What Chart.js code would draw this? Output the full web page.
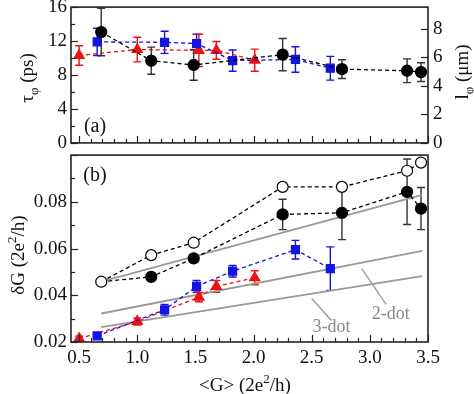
<!DOCTYPE html>
<html><head><meta charset="utf-8">
<script src="https://cdn.jsdelivr.net/npm/chart.js@4"></script>
<style>
html,body{margin:0;padding:0;background:#fff;overflow:hidden;width:474px;height:394px}
#a{position:absolute;left:0;top:0}
#b{position:absolute;left:0;top:148px}
</style></head><body>
<canvas id="a" width="474" height="150"></canvas>
<canvas id="b" width="474" height="246"></canvas>
<script>
// ---- data ----
const redX   = [0.50, 1.00, 1.53, 1.68, 2.01];
const blueX  = [0.655, 1.235, 1.51, 1.82, 2.36, 2.66];
const blackX = [0.69, 1.12, 1.485, 2.25, 2.76, 3.32, 3.44];

// panel (a): tau_phi (ps)
const redTau      = [10.3, 11.0, 10.9, 10.9, 9.75];
const redTauErr   = [1.15, 1.45, 1.9, 1.05, 1.3];
const blueTau     = [11.9, 11.85, 11.7, 9.7, 9.83, 8.8];
const blueTauErr  = [1.6, 1.3, 1.1, 1.25, 1.5, 1.4];
const blackTau    = [13.06, 9.68, 9.18, 10.4, 8.69, 8.5, 8.34];
const blackTauErr = [2.8, 1.6, 1.8, 1.9, 1.1, 1.4, 1.1];

// panel (b): deltaG (2e^2/h)
const openG     = [0.0458, 0.0572, 0.0625, 0.0864, 0.0864, 0.0933, 0.0968];
const blackG    = [0.0458, 0.0479, 0.0558, 0.0746, 0.0753, 0.0843, 0.0771];
const blackGErr = [0, 0.001, 0.0015, 0.0065, 0.0115, 0.014, 0.009];
const blueG     = [0.0226, 0.0338, 0.0438, 0.0503, 0.0595, 0.0514];
const blueGErr  = [0.0008, 0.0023, 0.0025, 0.0025, 0.004, 0.0093];
const redG      = [0.0215, 0.0288, 0.0392, 0.0438, 0.0475];
const redGErr   = [0.001, 0.0015, 0.002, 0.0025, 0.003];

// model curves
const modelX  = [0.69, 3.45];
const model1G = [0.0458, 0.0830];
const model2G = [0.0322, 0.0590];
const model3G = [0.0264, 0.0482];

// tick labels
const xTicks   = [0.5, 1.0, 1.5, 2.0, 2.5, 3.0, 3.5];
const tauTicks = [0, 4, 8, 12, 16];
const lTicks   = [0, 2, 4, 6, 8];
const gTicks   = [0.02, 0.04, 0.06, 0.08];
const annoLabels = ['2-dot', '3-dot'];

// ---- styling ----
const FONT = '"Liberation Serif", "Times New Roman", serif';
const RED = '#ee1111', BLUE = '#1414e0', BLACK = '#000000', GRAY = '#999999';

const xMinor = []; for (let k = 5; k <= 35; k++) xMinor.push(k / 10);
const tauMinor = [2, 6, 10, 14];
const gMinor = [0.03, 0.05, 0.07, 0.09];

function pts(xs, ys) { return xs.map((x, i) => ({ x: x, y: ys[i] })); }

function rich(ctx, segs, x, y, rot, color) {
  ctx.save(); ctx.translate(x, y); ctx.rotate(rot || 0);
  let w = 0;
  segs.forEach(s => { ctx.font = s[1] + 'px ' + FONT; w += ctx.measureText(s[0]).width; });
  let cx = -w / 2; ctx.textBaseline = 'alphabetic'; ctx.fillStyle = color || '#111';
  segs.forEach(s => { ctx.font = s[1] + 'px ' + FONT; ctx.fillText(s[0], cx, s[2]); cx += ctx.measureText(s[0]).width; });
  ctx.restore();
}

const errorBars = {
  id: 'errorBars',
  beforeDatasetsDraw(chart) {
    const ctx = chart.ctx;
    chart.data.datasets.forEach((ds, i) => {
      if (!ds.errors) return;
      const meta = chart.getDatasetMeta(i);
      const ys = chart.scales[ds.yAxisID || 'y'];
      ctx.save(); ctx.strokeStyle = ds.errColor || ds.borderColor; ctx.lineWidth = 1.4; ctx.setLineDash([]);
      ds.data.forEach((p, j) => {
        const e = ds.errors[j]; if (!e) return;
        const x = meta.data[j].x;
        const y1 = ys.getPixelForValue(p.y + e), y2 = ys.getPixelForValue(p.y - e);
        ctx.beginPath();
        ctx.moveTo(x, y1); ctx.lineTo(x, y2);
        ctx.moveTo(x - 4, y1); ctx.lineTo(x + 4, y1);
        ctx.moveTo(x - 4, y2); ctx.lineTo(x + 4, y2);
        ctx.stroke();
      });
      ctx.restore();
    });
  }
};

const frame = {
  id: 'frame',
  afterDraw(chart, args, opts) {
    const ctx = chart.ctx, a = chart.chartArea;
    ctx.save(); ctx.strokeStyle = '#222'; ctx.lineWidth = 1.2; ctx.setLineDash([]);
    (opts.list || []).forEach(t => {
      const s = chart.scales[t.scale];
      t.values.forEach(v => {
        const p = Math.round(s.getPixelForValue(v)) + 0.5;
        ctx.beginPath();
        if (t.side === 'bottom') { ctx.moveTo(p, a.bottom); ctx.lineTo(p, a.bottom - t.len); }
        else if (t.side === 'left') { ctx.moveTo(a.left, p); ctx.lineTo(a.left + t.len, p); }
        else { ctx.moveTo(a.right, p); ctx.lineTo(a.right - t.len, p); }
        ctx.stroke();
      });
    });
    ctx.lineWidth = 1.6;
    ctx.strokeRect(a.left, a.top, a.right - a.left, a.bottom - a.top);
    (opts.texts || []).forEach(t => rich(ctx, t.segs, t.x, t.y, t.rot, t.color));
    ctx.restore();
  }
};

const annot = {
  id: 'annot',
  afterDatasetsDraw(chart, args, opts) {
    const ctx = chart.ctx, xs = chart.scales.x, ys = chart.scales.y;
    ctx.save(); ctx.strokeStyle = GRAY; ctx.lineWidth = 1.3;
    (opts.items || []).forEach(it => {
      ctx.beginPath();
      ctx.moveTo(xs.getPixelForValue(it.l[0]), ys.getPixelForValue(it.l[1]));
      ctx.lineTo(xs.getPixelForValue(it.l[2]), ys.getPixelForValue(it.l[3]));
      ctx.stroke();
      ctx.font = '18px ' + FONT; ctx.fillStyle = '#888'; ctx.textAlign = 'center'; ctx.textBaseline = 'middle';
      ctx.fillText(it.text, xs.getPixelForValue(it.t[0]), ys.getPixelForValue(it.t[1]));
    });
    ctx.restore();
  }
};

function fixW(w) { return s => { s.width = w; s.paddingTop = 0; s.paddingBottom = 0; }; }
function setTicks(arr) { return s => { s.ticks = arr.map(v => ({ value: v })); }; }

const tickFont = { family: FONT, size: 19 };
const dashed = { borderDash: [4, 3], borderWidth: 1.3, showLine: true };

// ---- panel (a) ----
new Chart(document.getElementById('a'), {
  type: 'scatter',
  data: { datasets: [
    Object.assign({ data: pts(blackX, blackTau), errors: blackTauErr, errColor: '#333', borderColor: BLACK, backgroundColor: BLACK, pointStyle: 'circle', pointRadius: 5.5 }, dashed),
    Object.assign({ data: pts(blueX, blueTau), errors: blueTauErr, borderColor: BLUE, backgroundColor: BLUE, pointStyle: 'rect', pointRadius: 5.6 }, dashed),
    Object.assign({ data: pts(redX, redTau), errors: redTauErr, borderColor: RED, backgroundColor: RED, pointStyle: 'triangle', pointRadius: 5.8 }, dashed)
  ]},
  options: {
    responsive: false, animation: false, devicePixelRatio: 1,
    layout: { padding: { top: 7, bottom: 3, left: 0, right: 0 } },
    plugins: { legend: { display: false }, tooltip: { enabled: false },
      frame: {
        list: [
          { scale: 'x', side: 'bottom', values: xTicks, len: 7 },
          { scale: 'x', side: 'bottom', values: xMinor.filter(v => !xTicks.some(t => Math.abs(t - v) < 1e-6)), len: 4 },
          { scale: 'y', side: 'left', values: tauTicks, len: 7 },
          { scale: 'y', side: 'left', values: tauMinor, len: 4 },
          { scale: 'y2', side: 'right', values: lTicks, len: 7 }
        ],
        texts: [
          { segs: [['τ', 19, 0], ['φ', 13, 5], [' (ps)', 19, 0]], x: 33, y: 78, rot: -Math.PI / 2 },
          { segs: [['l', 19, 0], ['φ', 13, 5], [' (μm)', 19, 0]], x: 468, y: 72, rot: -Math.PI / 2 },
          { segs: [['(a)', 20, 0]], x: 95, y: 132, rot: 0 }
        ]
      }
    },
    elements: { line: { tension: 0 } },
    clip: false,
    scales: {
      x: { type: 'linear', min: 0.43, max: 3.5, display: false },
      y: { position: 'left', min: 0, max: 16, afterBuildTicks: setTicks(tauTicks), afterFit: fixW(71),
        grid: { display: false, drawTicks: false }, border: { display: false },
        ticks: { font: tickFont, color: '#111', padding: 4 } },
      y2: { position: 'right', min: 0, max: 9.5, afterBuildTicks: setTicks(lTicks), afterFit: fixW(46),
        grid: { display: false, drawTicks: false }, border: { display: false },
        ticks: { font: tickFont, color: '#111', padding: 5 } }
    }
  },
  plugins: [errorBars, frame]
});

// ---- panel (b) ----
const grayLine = { showLine: true, borderColor: GRAY, borderWidth: 1.8, pointRadius: 0, backgroundColor: GRAY };
new Chart(document.getElementById('b'), {
  type: 'scatter',
  data: { datasets: [
    Object.assign({ data: pts(blackX, openG), borderColor: BLACK, backgroundColor: '#ffffff', pointBorderWidth: 1.2, pointStyle: 'circle', pointRadius: 5.5 }, dashed),
    Object.assign({ data: pts(blackX, blackG), errors: blackGErr, errColor: '#333', borderColor: BLACK, backgroundColor: BLACK, pointStyle: 'circle', pointRadius: blackX.map((v, i) => i === 0 ? 0 : 5.5) }, dashed),
    Object.assign({ data: pts(blueX, blueG), errors: blueGErr, borderColor: BLUE, backgroundColor: BLUE, pointStyle: 'rect', pointRadius: 5.6 }, dashed),
    Object.assign({ data: pts(redX, redG), errors: redGErr, borderColor: RED, backgroundColor: RED, pointStyle: 'triangle', pointRadius: 5.8 }, dashed),
    Object.assign({ data: pts(modelX, model1G) }, grayLine),
    Object.assign({ data: pts(modelX, model2G) }, grayLine),
    Object.assign({ data: pts(modelX, model3G) }, grayLine)
  ]},
  options: {
    responsive: false, animation: false, devicePixelRatio: 1,
    layout: { padding: { top: 2, bottom: 0, left: 0, right: 46 } },
    plugins: { legend: { display: false }, tooltip: { enabled: false },
      frame: {
        list: [
          { scale: 'x', side: 'bottom', values: xTicks, len: 7 },
          { scale: 'x', side: 'bottom', values: xMinor.filter(v => !xTicks.some(t => Math.abs(t - v) < 1e-6)), len: 4 },
          { scale: 'y', side: 'left', values: gTicks.concat([0.10]), len: 7 },
          { scale: 'y', side: 'left', values: gMinor, len: 4 }
        ],
        texts: [
          { segs: [['δG (2e', 19, 0], ['2', 13, -8], ['/h)', 19, 0]], x: 24, y: 107, rot: -Math.PI / 2 },
          { segs: [['<G> (2e', 19, 0], ['2', 13, -8], ['/h)', 19, 0]], x: 245, y: 243, rot: 0 },
          { segs: [['(b)', 20, 0]], x: 95, y: 33, rot: 0 }
        ]
      },
      annot: { items: [
        { text: annoLabels[0], l: [2.93, 0.0514, 3.14, 0.0361], t: [3.18, 0.0317] },
        { text: annoLabels[1], l: [2.50, 0.0386, 2.67, 0.0292], t: [2.67, 0.0264] }
      ] }
    },
    elements: { line: { tension: 0 } },
    clip: false,
    scales: {
      x: { type: 'linear', min: 0.43, max: 3.5, afterBuildTicks: setTicks(xTicks),
        afterFit: s => { s.height = 52; s.paddingLeft = 0; s.paddingRight = 0; },
        grid: { display: false, drawTicks: false }, border: { display: false },
        ticks: { font: tickFont, color: '#111', padding: 5, maxRotation: 0, callback: v => v.toFixed(1) } },
      y: { position: 'left', min: 0.02, max: 0.10, afterBuildTicks: setTicks(gTicks), afterFit: fixW(71),
        grid: { display: false, drawTicks: false }, border: { display: false },
        ticks: { font: tickFont, color: '#111', padding: 4, callback: v => v.toFixed(2) } }
    }
  },
  plugins: [errorBars, frame, annot]
});
</script>
</body></html>
